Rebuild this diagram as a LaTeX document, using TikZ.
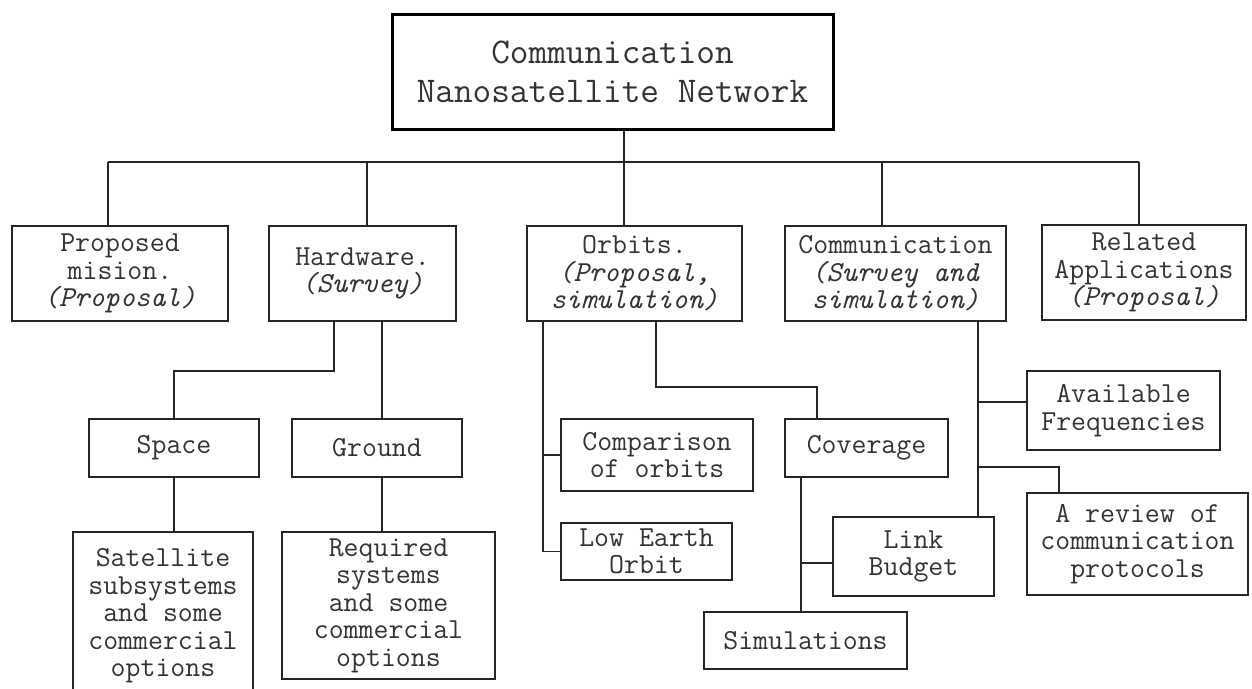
\documentclass[tikz,border=0pt]{standalone}
\usepackage{fontspec}
\begin{document}
\begin{tikzpicture}[x=1pt,y=-1pt,
  line width=1.8pt, draw=black!85,
  box/.style={draw=black!85, line width=1.8pt, rectangle, inner sep=0pt, align=center,
    text=black!80, font=\ttfamily\fontsize{29}{27.5}\selectfont},
  rootbox/.style={box, line width=3pt, draw=black, font=\ttfamily\fontsize{36.2}{39}\selectfont},
  wire/.style={draw=black!85, line width=1.8pt}]
\useasboundingbox (0,0) rectangle (1252,688);
\fill[white] (0,0) rectangle (1252,688);
\begin{scope}
\clip (0,0) rectangle (1252,688);

% top level
\node[rootbox, minimum width=441, minimum height=115] (root) at (612.5,71.5)
  {Communication\\Nanosatellite Network};

\node[box, minimum width=216, minimum height=95] (prop) at (120,273.5)
  {Proposed\\mision.\\\textit{(Proposal)}};
\node[box, minimum width=187, minimum height=95] (hw) at (362.5,273.5)
  {Hardware.\\\textit{(Survey)}};
\node[box, minimum width=215, minimum height=95] (orb) at (634.5,273.5)
  {Orbits.\\\textit{(Proposal,}\\\textit{simulation)}};
\node[box, minimum width=221, minimum height=95] (comm) at (895.5,273.5)
  {Communication\\\textit{(Survey and}\\\textit{simulation)}};
\node[box, minimum width=204, minimum height=95] (rel) at (1144,272.5)
  {Related\\Applications\\\textit{(Proposal)}};

% hardware branch
\node[box, minimum width=170, minimum height=58] (space) at (174,448) {Space};
\node[box, minimum width=170, minimum height=58] (ground) at (377,448) {Ground};
\node[box, minimum width=180, minimum height=168] (sat) at (163,616)
  {Satellite\\subsystems\\and some\\commercial\\options};
\node[box, minimum width=213, minimum height=147] (req) at (388.5,605.5)
  {Required\\systems\\and some\\commercial\\options};

% orbits branch
\node[box, minimum width=192, minimum height=72] (cmp) at (657,455)
  {Comparison\\of orbits};
\node[box, minimum width=171, minimum height=57] (leo) at (646.5,551.5)
  {Low Earth\\Orbit};
\node[box, minimum width=163, minimum height=58] (cov) at (866.5,448) {Coverage};
\node[box, minimum width=161, minimum height=79] (link) at (913.5,556.5)
  {Link\\Budget};
\node[box, minimum width=203, minimum height=57] (sim) at (805.5,640.5) {Simulations};

% communication branch
\node[box, minimum width=193, minimum height=79] (avail) at (1123.5,410.5)
  {Available\\Frequencies};
\node[box, minimum width=221, minimum height=102] (rev) at (1137.5,544)
  {A review of\\communication\\protocols};

% junction points
\coordinate (busL) at (108,162);
\coordinate (busR) at (1139,162);
\coordinate (jh) at (367,162);
\coordinate (jo) at (624,162);
\coordinate (jc) at (882,162);
\coordinate (hs) at (334,371);
\coordinate (hg) at (382,0);
\coordinate (ol) at (543,0);
\coordinate (or) at (656,387);
\coordinate (orc) at (817,387);
\coordinate (cs) at (801,0);
\coordinate (lk) at (801,563);
\coordinate (cm) at (978,0);
\coordinate (ca) at (978,402);
\coordinate (cr) at (978,467);
\coordinate (cr2) at (1059,467);

% bus under the root
\draw[wire] (busL) -- (busR);
\draw[wire] (root.south -| jo) -- (orb.north -| jo);
\draw[wire] (busL) -- (prop.north -| busL);
\draw[wire] (jh) -- (hw.north -| jh);
\draw[wire] (jc) -- (comm.north -| jc);
\draw[wire] (busR) -- (rel.north -| busR);

% hardware connectors
\draw[wire] (hw.south -| hs) -- (hs) -| (space.north);
\draw[wire] (hw.south -| hg) -- (ground.north -| hg);
\draw[wire] (ground.south -| hg) -- (req.north -| hg);
\draw[wire] (space.south) -- (sat.north -| space.south);

% orbits connectors
\draw[wire] (orb.south -| ol) |- (leo.west);
\draw[wire] (ol |- cmp.west) -- (cmp.west);
\draw[wire] (orb.south -| or) -- (or) -- (orc) -- (cov.north -| orc);
\draw[wire] (cov.south -| cs) -- (sim.north -| cs);
\draw[wire] (lk) -- (link.west |- lk);

% communication connectors
\draw[wire] (comm.south -| cm) -- (link.north -| cm);
\draw[wire] (ca) -- (avail.west |- ca);
\draw[wire] (cr) -- (cr2) -- (rev.north -| cr2);
\end{scope}
\end{tikzpicture}
\end{document}
